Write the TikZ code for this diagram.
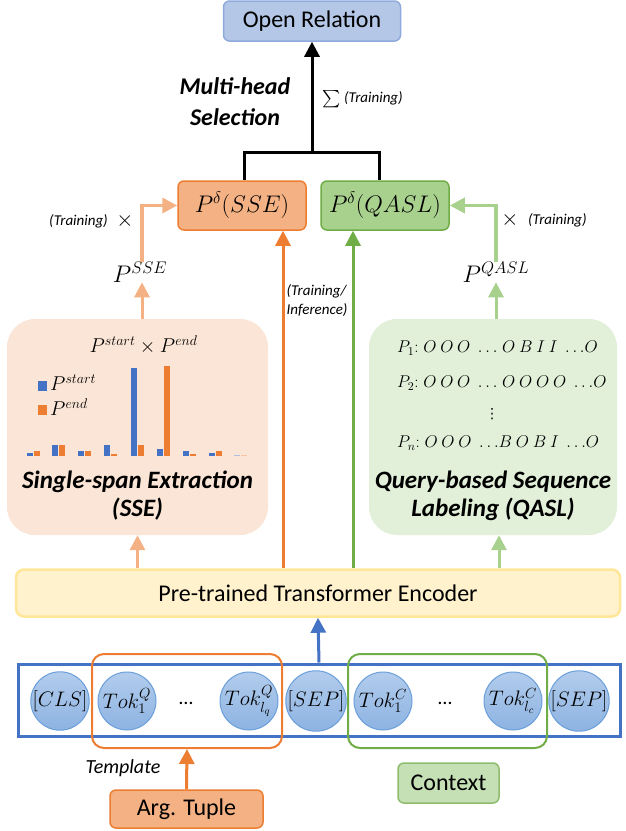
\RequirePackage{fix-cm}
\documentclass[tikz,border=0pt]{standalone}
\usepackage{amsmath}
\usepackage{fontspec}
\setmainfont{Carlito}
\newfontfamily\symfont{DejaVu Sans}
\usepackage{xcolor}
\usepackage{tikz}
\usetikzlibrary{arrows.meta, positioning}

\definecolor{orrdark}{HTML}{ED7D31}
\definecolor{orrfill}{HTML}{F4B183}
\definecolor{orrpale}{HTML}{FBE5D6}
\definecolor{grndark}{HTML}{70AD47}
\definecolor{grnfill}{HTML}{A9D18E}
\definecolor{grnpale}{HTML}{E2F0D9}
\definecolor{grnctx}{HTML}{C5E0B4}
\definecolor{bluedark}{HTML}{4472C4}
\definecolor{bluefill}{HTML}{B4C7E7}
\definecolor{blueedge}{HTML}{8FAADC}
\definecolor{tokedge}{HTML}{6A9FDA}
\definecolor{toktop}{HTML}{B2CCEC}
\definecolor{tokbot}{HTML}{8DB3E2}
\definecolor{encfill}{HTML}{FFF2CC}
\definecolor{encedge}{HTML}{FFE699}

\begin{document}
\begin{tikzpicture}[
    x=1pt, y=-1pt,
    box/.style={draw, rounded corners=6pt, line width=1.5pt, inner sep=0pt, align=center, font=\fontsize{24}{28}\selectfont},
    bigbox/.style={rounded corners=28pt, inner sep=0pt, minimum height=216pt},
    tok/.style={circle, draw=tokedge, line width=1pt, top color=toktop, bottom color=tokbot, minimum size=58pt, inner sep=0pt, font=\fontsize{21}{24}\selectfont},
    grp/.style={draw, rounded corners=12pt, line width=2pt, minimum height=94pt},
    arr/.style={-{Triangle[length=15pt,width=15pt]}, line width=3pt},
    lbl/.style={font=\fontsize{15}{19}\selectfont\itshape, inner sep=0pt},
    head/.style={font=\fontsize{25}{28}\selectfont\bfseries\itshape, align=center, inner sep=0pt},
    mth/.style={font=\fontsize{24}{28}\selectfont, inner sep=0pt},
    sml/.style={font=\fontsize{20}{24}\selectfont, inner sep=0pt},
    seq/.style={font=\fontsize{17}{21}\selectfont, inner sep=0pt, anchor=west}
  ]
  \useasboundingbox (0,0) rectangle (625,831);

  \node[box, fill=bluefill, draw=blueedge, minimum width=177pt, minimum height=40pt] (openrel) at (312,21) {Open Relation};
  \node[box, fill=orrfill, draw=orrdark, minimum width=128pt, minimum height=49pt] (psse) at (242,205.5) {$P^{\delta}(SSE)$};
  \node[box, fill=grnfill, draw=grndark, minimum width=128pt, minimum height=49pt] (pqasl) at (385,205.5) {$P^{\delta}(QASL)$};

  \coordinate (join) at (312,152);
  \draw[line width=3pt] ([xshift=2pt]psse.north) |- (join) -| ([xshift=-6pt]pqasl.north);
  \draw[arr] (join) -- (openrel.south);

  \node[head, font=\fontsize{24}{31}\selectfont\bfseries\itshape] (mhs) at (235,102) {Multi-head\\Selection};
  \node[font=\fontsize{18}{22}\selectfont, inner sep=0pt] (sumsym) at (332,99) {$\textstyle\sum$};
  \node[lbl, anchor=west] (sumtr) at (344,98) {(Training)};

  \node[mth] (pssel) at (140,272) {$P^{SSE}$};
  \node[mth] (pqasll) at (496,272) {$P^{QASL}$};

  \draw[arr, orrfill, line width=3.5pt] ([xshift=2pt]pssel.north) |- (psse.west);
  \draw[arr, grnfill, line width=3.5pt] (pqasll.north) |- (pqasl.east);
  \node[lbl, anchor=east] (trl) at (108,221) {(Training)};
  \node[font=\fontsize{22}{26}\selectfont, inner sep=0pt] (tml) at (125,221) {$\times$};
  \node[font=\fontsize{22}{26}\selectfont, inner sep=0pt] (tmr) at (510,220) {$\times$};
  \node[lbl, anchor=west] (trr) at (528,220) {(Training)};

  \node[bigbox, fill=orrpale, minimum width=261pt] (ssebox) at (137.5,427) {};
  \node[bigbox, fill=grnpale, minimum width=248pt] (qaslbox) at (493,427) {};

  \node[box, fill=encfill, draw=encedge, line width=2.5pt, rounded corners=8pt, minimum width=604pt, minimum height=47pt] (enc) at (318,593) {Pre-trained Transformer Encoder};

  \draw[arr, orrfill] (ssebox.south |- enc.north) -- (ssebox.south);
  \draw[arr, grnfill] ([xshift=6pt]qaslbox.south |- enc.north) -- ([xshift=6pt]qaslbox.south);
  \draw[arr, orrfill] ([xshift=2pt]pssel.south |- ssebox.north) -- ([xshift=2pt]pssel.south);
  \draw[arr, grnfill] (pqasll.south |- qaslbox.north) -- (pqasll.south);

  \coordinate (olead) at ([xshift=41pt]psse.south);
  \coordinate (glead) at ([xshift=-32pt]pqasl.south);
  \draw[arr, orrdark] (olead |- enc.north) -- (olead);
  \draw[arr, grndark] (glead |- enc.north) -- (glead);
  \node[lbl, align=left] (trinf) at (317,301) {(Training/\\Inference)};

  \node[sml] (prod) at (143.5,345) {$P^{start}\times P^{end}$};
  \fill[bluedark] (38,381) rectangle (47,391);
  \node[sml, anchor=west] (lgs) at (50,383) {$P^{start}$};
  \fill[orrdark] (38,405) rectangle (47,415);
  \node[sml, anchor=west] (lge) at (50,407) {$P^{end}$};
  \foreach \bx/\hb/\ho in {27/3/5, 52/11/11, 78/5/5, 104/11/2, 131/88/11, 157/7/90, 183/5/2, 209/3/5}{
    \fill[bluedark] (\bx,456) rectangle ++(6,-\hb);
    \fill[orrdark] (\bx+7,456) rectangle ++(6,-\ho);
  }
  \fill[bluedark!45] (234,456) rectangle ++(6,-1.2);
  \fill[orrdark!45] (241,456) rectangle ++(6,-1.2);
  \node[head] (ssetxt) at (137.5,496) {Single-span Extraction\\(SSE)};

  \node[seq] (pl1) at (397,348) {$P_1{:}\;O\:O\:O\;\,{\ldots}\;O\:B\:I\:I\;\,{\ldots}O$};
  \node[seq] (pl2) at (397,383) {$P_2{:}\;O\:O\:O\;\,{\ldots}\;O\:O\:O\:O\;\,{\ldots}O$};
  \node[font=\fontsize{14}{16}\selectfont\symfont, inner sep=0pt] (vd) at (492,414) {⋮};
  \node[seq] (pln) at (397,443) {$P_n{:}\;O\:O\:O\;\,{\ldots}B\:O\:B\:I\;\,{\ldots}O$};
  \node[head] (qasltxt) at (493,496) {Query-based Sequence\\Labeling (QASL)};

  \node[draw=bluedark, line width=3pt, minimum width=602pt, minimum height=72pt, inner sep=0pt] (row) at (319,700) {};
  \node[tok] (cls) at (60,701) {$[CLS]$};
  \node[tok] (tokq1) at (127,701) {$Tok^{Q}_{1}$};
  \node[sml] (dq) at (186,703) {\ldots};
  \node[tok] (tokql) at (249,701) {$Tok^{Q}_{l_q}$};
  \node[tok] (sep1) at (316,701) {$[SEP]$};
  \node[tok] (tokc1) at (383,701) {$Tok^{C}_{1}$};
  \node[sml] (dc) at (445,703) {\ldots};
  \node[tok] (tokcl) at (513,701) {$Tok^{C}_{l_c}$};
  \node[tok] (sep2) at (579,701) {$[SEP]$};
  \node[grp, draw=orrdark, minimum width=190pt] (tmplgrp) at (187,701) {};
  \node[grp, draw=grndark, minimum width=199pt] (ctxgrp) at (447.5,701) {};

  \draw[arr, bluedark] (row.north) -- (enc.south);

  \node[box, fill=orrfill, draw=orrdark, minimum width=153pt, minimum height=38pt] (arg) at (186.5,809) {Arg. Tuple};
  \draw[arr, orrdark] (arg.north) -- (tmplgrp.south);
  \node[sml, font=\fontsize{20}{24}\selectfont\itshape] (tmpl) at (123,768) {Template};
  \node[box, fill=grnctx, draw=grndark!80, minimum width=101pt, minimum height=40pt] (ctx) at (448.5,783) {Context};
\end{tikzpicture}
\end{document}
